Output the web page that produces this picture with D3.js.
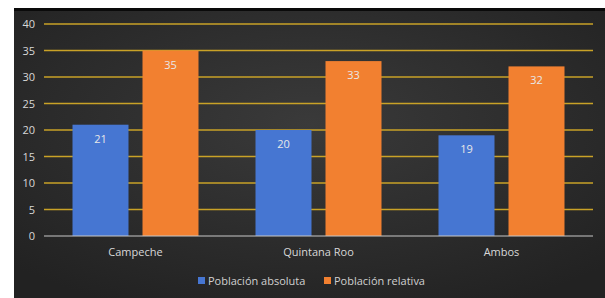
<!DOCTYPE html>
<html>
<head>
<meta charset="utf-8">
<script src="https://cdn.jsdelivr.net/npm/d3@7"></script>
<style>
  body { margin: 0; background: #fff; }
  text { font-family: "Open Sans", sans-serif; }
</style>
</head>
<body>
<svg id="chart" width="605" height="298"></svg>
<script>
var categories = ["Campeche", "Quintana Roo", "Ambos"]
var seriesNames = ["Población absoluta", "Población relativa"]
var absoluta = [21, 20, 19]
var relativa = [35, 33, 32]
var yTicks = [0, 5, 10, 15, 20, 25, 30, 35, 40]
var colors = ["#4676d2", "#f28030"]

var svg = d3.select("#chart")
var defs = svg.append("defs")
var rg = defs.append("radialGradient").attr("id", "bgGrad")
  .attr("cx", "50%").attr("cy", "40%").attr("r", "70%")
rg.append("stop").attr("offset", "0%").attr("stop-color", "#3a3a3a")
rg.append("stop").attr("offset", "100%").attr("stop-color", "#222")

// panel
svg.append("rect").attr("x", 14).attr("y", 8).attr("width", 591).attr("height", 290)
  .attr("fill", "url(#bgGrad)")
svg.append("rect").attr("x", 14).attr("y", 8).attr("width", 591).attr("height", 3)
  .attr("fill", "#0a0a0a")

var plotL = 44, plotR = 593, plotT = 24, plotB = 236

var x0 = d3.scaleBand().domain(categories).range([plotL, plotR])
var y = d3.scaleLinear().domain([0, 40]).range([plotB, plotT])

var barW = 56, gap = 14
var pad = (x0.bandwidth() - 2 * barW - gap) / 2

// grid
svg.append("g").selectAll("line").data(yTicks.filter(d => d > 0)).enter().append("line")
  .attr("x1", plotL).attr("x2", plotR)
  .attr("y1", d => y(d)).attr("y2", d => y(d))
  .attr("stroke", "#c9a227").attr("stroke-width", 1.3)

// y labels
svg.append("g").selectAll("text").data(yTicks).enter().append("text")
  .attr("x", 35).attr("y", d => y(d) + 4)
  .attr("text-anchor", "end").attr("fill", "#d8d8d8").attr("font-size", 11)
  .text(d => d)

var series = [absoluta, relativa]
series.forEach(function(vals, s) {
  var g = svg.append("g")
  g.selectAll("rect").data(vals).enter().append("rect")
    .attr("x", (d, i) => x0(categories[i]) + pad + s * (barW + gap))
    .attr("y", d => y(d))
    .attr("width", barW)
    .attr("height", d => plotB - y(d))
    .attr("fill", colors[s])
  g.selectAll("text").data(vals).enter().append("text")
    .attr("x", (d, i) => x0(categories[i]) + pad + s * (barW + gap) + barW / 2)
    .attr("y", d => y(d) + 18)
    .attr("text-anchor", "middle").attr("fill", "#e8e8e8").attr("font-size", 11)
    .text(d => d)
})

// baseline
svg.append("line").attr("x1", plotL).attr("x2", plotR)
  .attr("y1", plotB).attr("y2", plotB)
  .attr("stroke", "#c8c8c8").attr("stroke-width", 1)

// category labels
svg.append("g").selectAll("text").data(categories).enter().append("text")
  .attr("x", d => x0(d) + x0.bandwidth() / 2).attr("y", 256)
  .attr("text-anchor", "middle").attr("fill", "#d8d8d8").attr("font-size", 11)
  .text(d => d)

// legend
var legX = [198, 324]
seriesNames.forEach(function(n, i) {
  svg.append("rect").attr("x", legX[i]).attr("y", 277).attr("width", 7).attr("height", 7)
    .attr("fill", colors[i])
  svg.append("text").attr("x", legX[i] + 10).attr("y", 285)
    .attr("fill", "#d0d0d0").attr("font-size", 11).text(n)
})
</script>
</body>
</html>
